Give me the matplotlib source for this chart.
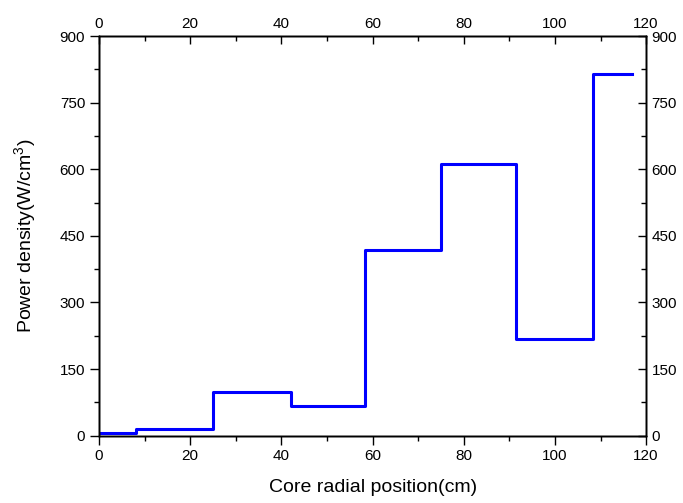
import matplotlib
matplotlib.use('Agg')
import matplotlib.pyplot as plt
from matplotlib.ticker import MultipleLocator

plt.rcParams['font.family'] = ['Liberation Sans', 'DejaVu Sans']
plt.rcParams['mathtext.fontset'] = 'custom'
plt.rcParams['mathtext.rm'] = 'Liberation Sans'

# Limites de las zonas radiales (cm) y densidad de potencia en cada zona
bordes = [0, 8, 25, 42, 58.3, 75, 91.5, 108.3, 117]
densidad = [5, 14, 99, 67, 418, 611, 218, 815]

fig = plt.figure(figsize=(6.83, 5.03), dpi=100)
ax = fig.add_axes([0.145, 0.134, 0.801, 0.794])

ax.step(bordes, densidad + [densidad[-1]], where='post', color='#0000ff', linewidth=2.2)

ax.set_xlim(0, 120)
ax.set_ylim(0, 900)


def ticks(a):
    a.xaxis.set_major_locator(MultipleLocator(20))
    a.xaxis.set_minor_locator(MultipleLocator(10))
    a.yaxis.set_major_locator(MultipleLocator(150))
    a.yaxis.set_minor_locator(MultipleLocator(75))


ticks(ax)
ax.tick_params(which='both', direction='out', labelsize=11, width=1, color='black')
ax.tick_params(which='major', length=6.5)
ax.tick_params(which='minor', length=3.5)

# ejes superior y derecho con marcas hacia dentro
ax_top = ax.twiny()
ax_top.set_xlim(ax.get_xlim())
ax_right = ax.twinx()
ax_right.set_ylim(ax.get_ylim())
for a in (ax_top, ax_right):
    ticks(a)
    a.tick_params(which='both', direction='in', labelsize=11, width=1, color='black', pad=4)
    a.tick_params(which='major', length=6)
    a.tick_params(which='minor', length=3.5)

for a in (ax, ax_top, ax_right):
    for s in a.spines.values():
        s.set_linewidth(1)

ax.set_xlabel('Core radial position(cm)', fontsize=14, labelpad=11)
ax.set_ylabel('Power density(W/cm$^3$)', fontsize=14, labelpad=15)

fig.savefig('out.png', dpi=100)
